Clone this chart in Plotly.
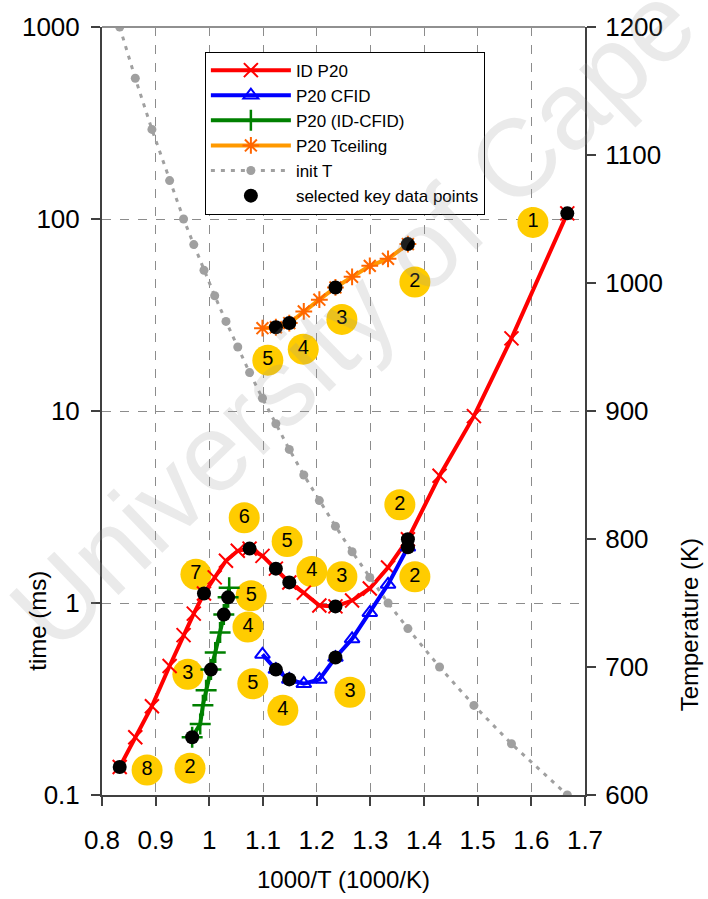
import plotly.graph_objects as go

# ---------------- data ----------------
# ID P20 (1000/T, time ms)
id_x = [0.833, 0.862, 0.893, 0.926, 0.952, 0.971, 0.990, 1.010, 1.031, 1.053, 1.075, 1.099,
        1.124, 1.149, 1.176, 1.205, 1.235, 1.266, 1.299, 1.333, 1.370, 1.429, 1.493, 1.563, 1.667]
id_t = [0.14, 0.20, 0.29, 0.47, 0.68, 0.88, 1.12, 1.36, 1.66, 1.87, 1.92, 1.76,
        1.51, 1.28, 1.13, 0.97, 0.96, 1.03, 1.19, 1.53, 2.15, 4.6, 9.4, 23.9, 107]

# P20 CFID
cfid_x = [1.099, 1.124, 1.149, 1.176, 1.205, 1.235, 1.266, 1.299, 1.333, 1.370]
cfid_t = [0.54, 0.45, 0.40, 0.38, 0.40, 0.52, 0.65, 0.89, 1.25, 1.95]

# P20 (ID-CFID)
diff_x = [0.968, 0.983, 0.988, 0.994, 1.003, 1.011, 1.020, 1.027, 1.035, 1.037]
diff_t = [0.20, 0.234, 0.293, 0.351, 0.45, 0.553, 0.703, 0.87, 1.07, 1.20]

# P20 Tceiling
tc_x = [1.099, 1.124, 1.149, 1.176, 1.205, 1.235, 1.266, 1.299, 1.333, 1.370]
tc_t = [27.0, 27.3, 28.7, 33.0, 38.0, 44.0, 50.0, 57.0, 62.0, 74.0]

# init T (right axis, K)
initT_x = [0.833, 0.862, 0.893, 0.926, 0.952, 0.971, 0.990, 1.010, 1.031, 1.053, 1.075, 1.099,
           1.124, 1.149, 1.176, 1.205, 1.235, 1.266, 1.299, 1.333, 1.370, 1.429, 1.493, 1.563, 1.667]
initT_K = [1200, 1160, 1120, 1080, 1050, 1030, 1010, 990, 970, 950, 930, 910,
           890, 870, 850, 830, 810, 790, 770, 750, 730, 700, 670, 640, 600]

# selected key data points
key_x = [0.833, 0.990, 1.075, 1.124, 1.149, 1.235, 1.370, 1.667,
         1.124, 1.149, 1.235, 1.370,
         0.968, 1.003, 1.027, 1.035,
         1.124, 1.149, 1.235, 1.370]
key_t = [0.14, 1.12, 1.92, 1.51, 1.28, 0.96, 2.15, 107,
         0.45, 0.40, 0.52, 1.95,
         0.20, 0.45, 0.87, 1.07,
         27.3, 28.7, 44.0, 74.0]

# numbered labels
lab_x = [1.603, 1.383, 1.247, 1.175, 1.109, 1.355, 1.065, 1.145, 1.191, 1.247,
         1.383, 0.975, 1.078, 1.072, 0.960, 1.081, 1.262, 1.137, 0.964, 0.884]
lab_t = [96, 47, 30, 21, 18.4, 3.25, 2.78, 2.09, 1.46, 1.37,
         1.37, 1.41, 1.09, 0.75, 0.425, 0.38, 0.343, 0.276, 0.138, 0.135]
lab_txt = ["1", "2", "3", "4", "5", "2", "6", "5", "4", "3",
           "2", "7", "5", "4", "3", "5", "3", "4", "2", "8"]

x_ticks = [0.8, 0.9, 1.0, 1.1, 1.2, 1.3, 1.4, 1.5, 1.6, 1.7]
x_ticktext = ["0.8", "0.9", "1", "1.1", "1.2", "1.3", "1.4", "1.5", "1.6", "1.7"]
y_ticks = [0.1, 1, 10, 100, 1000]
y_ticktext = ["0.1", "1", "10", "100", "1000"]
y2_ticks = [600, 700, 800, 900, 1000, 1100, 1200]

FONT = "Liberation Sans, Arial, sans-serif"

fig = go.Figure()

fig.add_trace(go.Scatter(
    x=lab_x, y=lab_t, text=lab_txt, mode="markers+text", showlegend=False,
    marker=dict(size=31, color="#FFCC00"), textposition="middle center",
    textfont=dict(size=20, color="black", family=FONT), hoverinfo="skip"))

fig.add_trace(go.Scatter(
    x=id_x, y=id_t, name="ID P20", mode="lines+markers",
    line=dict(color="#FF0000", width=4),
    marker=dict(symbol="x-thin", size=14, color="#FF0000", line=dict(width=2, color="#FF0000"))))

fig.add_trace(go.Scatter(
    x=cfid_x, y=cfid_t, name="P20 CFID", mode="lines+markers",
    line=dict(color="#0000FF", width=4),
    marker=dict(symbol="triangle-up-open", size=13, color="#0000FF", line=dict(width=2, color="#0000FF"))))

fig.add_trace(go.Scatter(
    x=diff_x, y=diff_t, name="P20 (ID-CFID)", mode="lines+markers",
    line=dict(color="#008000", width=4),
    marker=dict(symbol="cross-thin", size=15, color="#008000", line=dict(width=2.5, color="#008000"))))

fig.add_trace(go.Scatter(
    x=tc_x, y=tc_t, name="P20 Tceiling", mode="lines+markers",
    line=dict(color="#FF9900", width=4),
    marker=dict(symbol="asterisk", size=14, color="#FF6600", line=dict(width=2, color="#FF6600"))))

fig.add_trace(go.Scatter(
    x=initT_x, y=initT_K, name="init T", mode="lines+markers", yaxis="y2",
    line=dict(color="#A0A0A0", width=3, dash="4px,6px"),
    marker=dict(symbol="circle", size=9, color="#A0A0A0")))

fig.add_trace(go.Scatter(
    x=key_x, y=key_t, name="selected key data points", mode="markers",
    marker=dict(symbol="circle", size=14, color="black")))

axis_common = dict(
    showline=True, linecolor="#404040", linewidth=2,
    ticks="outside", ticklen=9, tickwidth=1.5, tickcolor="#404040",
    tickfont=dict(size=26, color="black", family=FONT), zeroline=False,
)

fig.update_layout(
    width=708, height=899, autosize=False,
    margin=dict(l=102, r=123, t=25, b=104),
    paper_bgcolor="white", plot_bgcolor="white",
    font=dict(family=FONT, color="black"),
    xaxis=dict(range=[0.8, 1.7], tickvals=x_ticks, ticktext=x_ticktext,
               showgrid=True, gridcolor="#8c8c8c", griddash="dash", gridwidth=1,
               ticklabelstandoff=12, **axis_common),
    yaxis=dict(type="log", range=[-1, 3], tickvals=y_ticks, ticktext=y_ticktext,
               showgrid=True, gridcolor="#8c8c8c", griddash="dash", gridwidth=1,
               ticklabelstandoff=6, **axis_common),
    yaxis2=dict(overlaying="y", side="right", range=[600, 1200], tickvals=y2_ticks,
                showgrid=False, ticklabelstandoff=4, **axis_common),
    legend=dict(x=0.213, y=0.968, xanchor="left", yanchor="top",
                bgcolor="white", bordercolor="black", borderwidth=1,
                font=dict(size=17, family=FONT, color="black"),
                tracegroupgap=0, itemwidth=80),
    shapes=[dict(type="line", xref="paper", yref="paper", x0=0, x1=1, y0=1, y1=1,
                 line=dict(color="#909090", width=2))],
    annotations=[
        dict(text="University of Cape Town", xref="paper", yref="paper", x=0.731, y=0.753,
             xanchor="center", yanchor="middle", showarrow=False, textangle=-44,
             font=dict(size=110, family=FONT, color="rgba(150,150,150,0.2)")),
        dict(text="time (ms)", xref="paper", yref="paper", x=-0.1325, y=0.227,
             xanchor="center", yanchor="middle", showarrow=False, textangle=-90,
             font=dict(size=24, family=FONT, color="black")),
        dict(text="Temperature (K)", xref="paper", yref="paper", x=1.217, y=0.222,
             xanchor="center", yanchor="middle", showarrow=False, textangle=-90,
             font=dict(size=24, family=FONT, color="black")),
        dict(text="1000/T (1000/K)", xref="paper", yref="paper", x=0.5, y=-0.110,
             xanchor="center", yanchor="middle", showarrow=False,
             font=dict(size=24, family=FONT, color="black")),
    ],
)

fig.write_html("out.html")
